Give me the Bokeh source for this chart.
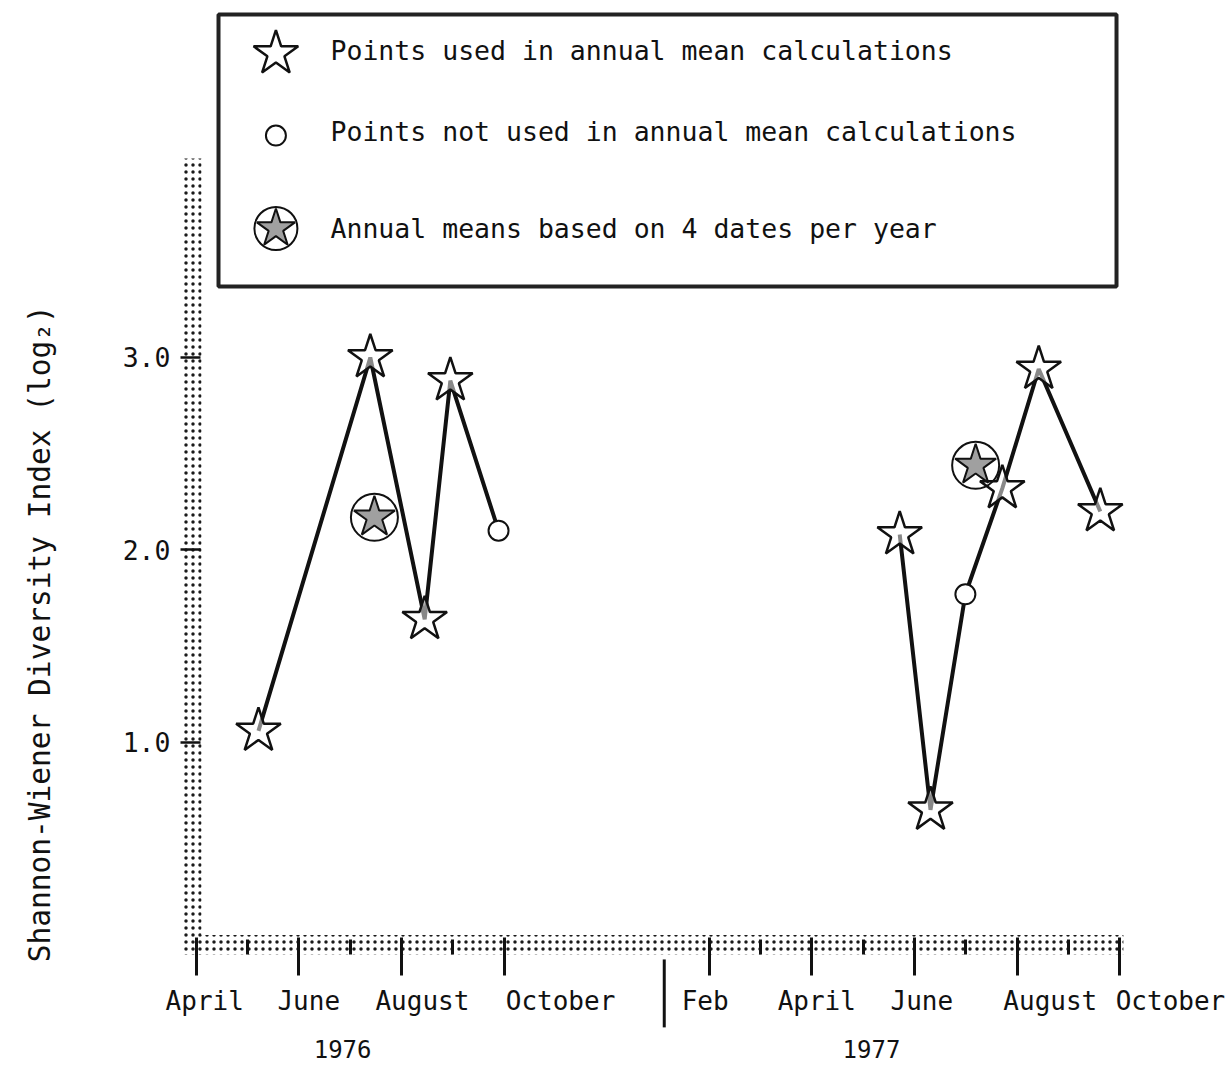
import math
from bokeh.plotting import figure
from bokeh.models import FixedTicker, NumeralTickFormatter, BoxAnnotation
from bokeh.core.properties import value
from bokeh.embed import file_html
from bokeh.resources import INLINE

# ---------------- data ----------------
# x = months since 1 January 1976 (3 = 1 April 1976), y = Shannon-Wiener index (log2)
dates_1976 = [4.21, 6.39, 7.45, 7.95, 8.89]
index_1976 = [1.06, 3.00, 1.64, 2.88, 2.10]
used_1976 = [True, True, True, True, False]

dates_1977 = [16.71, 17.31, 17.99, 18.71, 19.42, 20.62]
index_1977 = [2.08, 0.65, 1.77, 2.32, 2.94, 2.20]
used_1977 = [True, True, False, True, True, True]

mean_dates = [6.47, 18.19]
mean_index = [2.17, 2.44]

month_ticks = [3, 5, 7, 9, 13, 15, 17, 19, 21]
month_labels = ["April", "June", "August", "October", "Feb", "April", "June", "August", "October"]
minor_month_ticks = [4, 6, 8, 14, 16, 18, 20]
year_break = 12
year_labels = ["1976", "1977"]
y_ticks = [1, 2, 3]
y_title = "Shannon-Wiener Diversity Index (log\u2082)"

legend_labels = [
    "Points used in annual mean calculations",
    "Points not used in annual mean calculations",
    "Annual means based on 4 dates per year",
]

# ---------------- layout / style ----------------
FONT = "DejaVu Sans Mono"
INK = "#111111"
XR = (-0.8187, 23.158)     # whole canvas is the frame
YR = (-0.678, 4.8545)
X0 = 2.749                 # position of the (stippled) y axis
Y0 = -0.101                # position of the (stippled) x axis
axis_top = 4.034
xbar_right = 21.07
bar_w = 0.35
label_nudge = [-0.60, -0.42, -0.51, 0.03, -0.54, -0.67, -0.47, -0.27, -0.08]
label_y = -0.345
year_x = [5.85, 16.16]
year_y = -0.59
title_xy = (-0.04, 1.565)
break_shift = 0.12

p = figure(width=1230, height=1065, x_range=XR, y_range=YR,
           output_backend="svg", toolbar_location=None, min_border=0)
p.background_fill_color = "white"
p.border_fill_color = "white"
p.outline_line_color = None
p.xgrid.grid_line_color = None
p.ygrid.grid_line_color = None

# stippled axis bars
bar_style = dict(fill_color="white", hatch_pattern="dot", hatch_color="#1a1a1a",
                 hatch_scale=7, hatch_weight=2.5, line_color=None)
p.quad(left=[X0], right=[X0 + bar_w], bottom=[Y0], top=[axis_top], **bar_style)
p.quad(left=[X0], right=[xbar_right], bottom=[Y0], top=[0.0], **bar_style)

# axes (placed on the bars)
p.xaxis.fixed_location = Y0
p.xaxis.ticker = FixedTicker(ticks=month_ticks, minor_ticks=minor_month_ticks)
p.xaxis.axis_line_color = None
p.xaxis.major_label_text_color = None
p.xaxis.major_label_text_font_size = "1px"
p.xaxis.major_tick_in = 17
p.xaxis.major_tick_out = 21
p.xaxis.major_tick_line_width = 3
p.xaxis.major_tick_line_color = INK
p.xaxis.minor_tick_in = 15
p.xaxis.minor_tick_out = 0
p.xaxis.minor_tick_line_width = 3
p.xaxis.minor_tick_line_color = INK

p.yaxis.fixed_location = X0
p.yaxis.ticker = FixedTicker(ticks=y_ticks, minor_ticks=[])
p.yaxis.formatter = NumeralTickFormatter(format="0.0")
p.yaxis.axis_line_color = None
p.yaxis.major_tick_in = 17
p.yaxis.major_tick_out = 3
p.yaxis.major_tick_line_width = 2.5
p.yaxis.major_tick_line_color = INK
p.yaxis.minor_tick_line_color = None
p.yaxis.major_label_standoff = 10
p.yaxis.major_label_text_font = FONT
p.yaxis.major_label_text_font_size = "26.5px"
p.yaxis.major_label_text_color = INK

# year boundary tick (1 January 1977)
p.segment(x0=[year_break + break_shift], y0=[-0.127], x1=[year_break + break_shift], y1=[-0.48],
          line_width=3, line_color=INK)

# month labels, years, y title
p.text(x=[m + n for m, n in zip(month_ticks, label_nudge)], y=[label_y] * len(month_ticks),
       text=month_labels, text_align="left", text_baseline="middle",
       text_font=value(FONT), text_font_size=value("26px"), text_color=INK)
p.text(x=year_x, y=[year_y] * 2, text=year_labels, text_align="center", text_baseline="middle",
       text_font=value(FONT), text_font_size=value("24px"), text_color=INK)
p.text(x=[title_xy[0]], y=[title_xy[1]], text=[y_title], angle=math.pi / 2,
       text_align="center", text_baseline="middle",
       text_font=value(FONT), text_font_size=value("29.5px"), text_color=INK)

# data lines
for xs, ys in ((dates_1976, index_1976), (dates_1977, index_1977)):
    p.line(xs, ys, line_width=4, line_color=INK)

star_style = dict(marker="star", size=47, fill_color="white", fill_alpha=0.5,
                  line_color=INK, line_width=2.5)
circ_style = dict(marker="circle", size=20, fill_color="white", line_color=INK, line_width=2)
for xs, ys, us in ((dates_1976, index_1976, used_1976), (dates_1977, index_1977, used_1977)):
    p.scatter([x for x, u in zip(xs, us) if u], [y for y, u in zip(ys, us) if u], **star_style)
    p.scatter([x for x, u in zip(xs, us) if not u], [y for y, u in zip(ys, us) if not u], **circ_style)

p.scatter(mean_dates, mean_index, marker="circle", size=47, fill_color=None,
          line_color=INK, line_width=2)
p.scatter(mean_dates, mean_index, marker="star", size=43, fill_color="#a0a0a0",
          line_color=INK, line_width=2)

# legend box (drawn by hand)
p.add_layout(BoxAnnotation(left=3.431, right=20.936, bottom=3.369, top=4.782,
                           fill_color=None, line_color="#222222", line_alpha=1.0, line_width=4))
leg_x = 4.55
leg_rows = [4.579, 4.153, 3.670]
p.scatter([leg_x], [leg_rows[0]], **star_style)
p.scatter([leg_x], [leg_rows[1]], **circ_style)
p.scatter([leg_x], [leg_rows[2]], marker="circle", size=43, fill_color=None, line_color=INK, line_width=2)
p.scatter([leg_x], [leg_rows[2]], marker="star", size=40, fill_color="#a0a0a0", line_color=INK, line_width=2)
p.text(x=[5.614] * 3, y=[4.595, 4.174, 3.670], text=legend_labels,
       text_font=value(FONT), text_font_size=value("26.5px"), text_color=INK,
       text_align="left", text_baseline="middle")

open("out.html", "w").write(file_html(p, INLINE, "Shannon-Wiener diversity"))
